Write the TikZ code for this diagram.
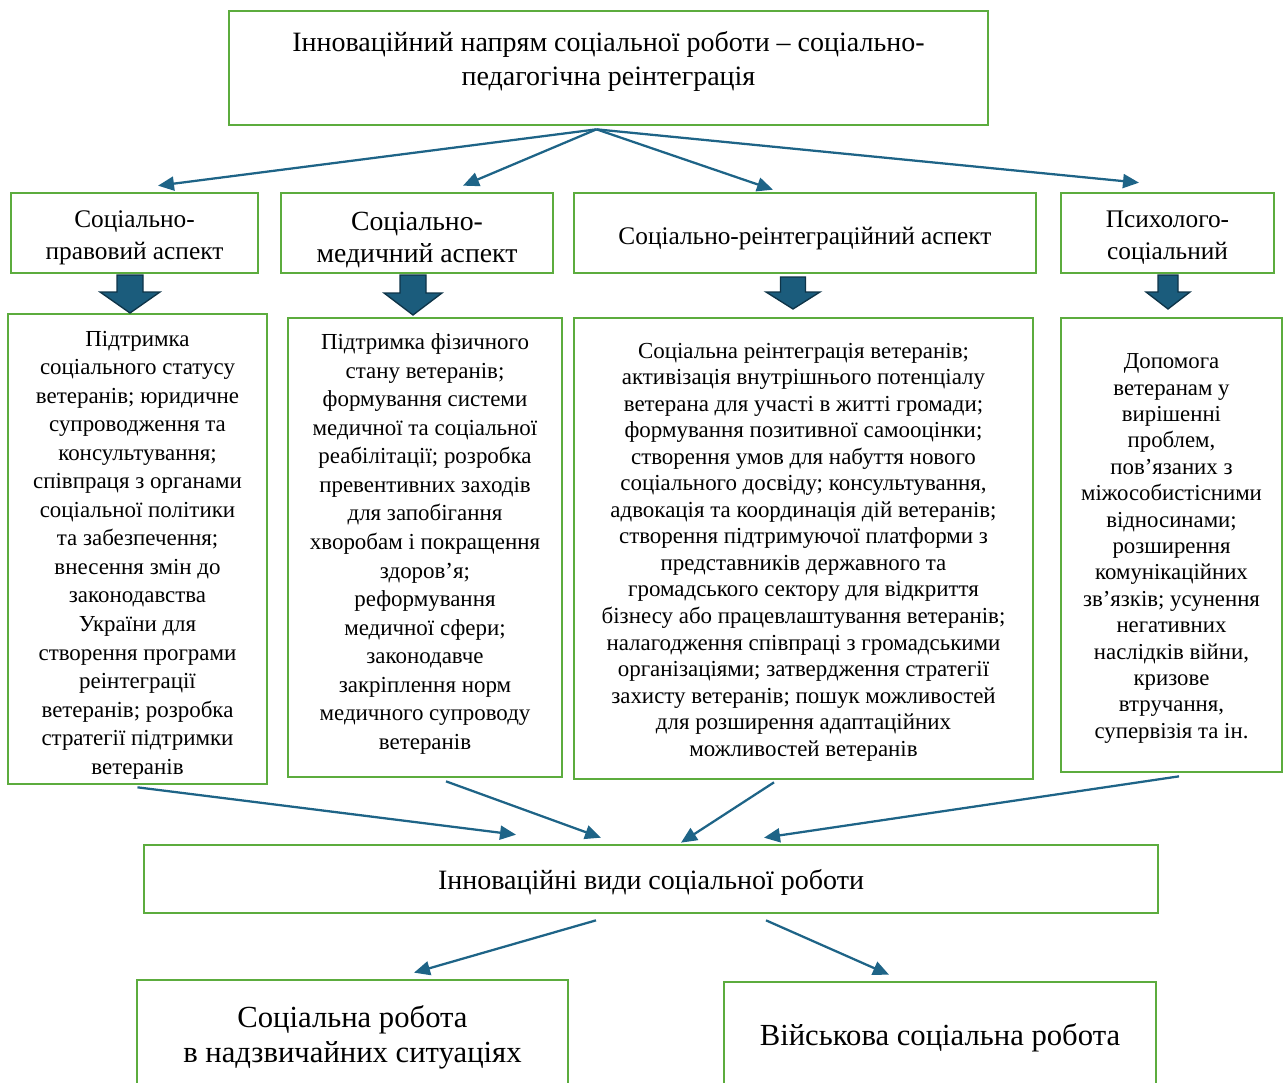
\documentclass[tikz,border=0pt]{standalone}
\usepackage{fontspec}
\setmainfont{Liberation Serif}
\usetikzlibrary{arrows.meta}

\definecolor{boxgreen}{RGB}{92,172,62}
\definecolor{linkblue}{RGB}{30,100,135}
\definecolor{blockfill}{RGB}{27,92,124}
\definecolor{blockedge}{RGB}{14,52,72}

\tikzset{
  box/.style={draw=boxgreen, line width=2pt, fill=white, inner sep=0pt},
  txt/.style={align=center, inner sep=0pt},
  link/.style={draw=linkblue, line width=1.7pt, -{Triangle[length=12pt,width=10.5pt]}},
  bigarrow/.style={draw=blockedge, fill=blockfill, line width=1pt},
}

\begin{document}
\begin{tikzpicture}[x=0.75pt, y=-0.75pt]
\path[use as bounding box, clip] (0,0) rectangle (1284,1082);

% top
\node[box, minimum width=569.25pt, minimum height=85.5pt] (top) at (608.5,68) {};
\node[txt, font=\fontsize{21}{25.5}\selectfont] (toptext) at ([shift={(0,-7)}]top.center)
  {Інноваційний напрям соціальної роботи – соціально-\\педагогічна реінтеграція};

% aspects
\node[box, minimum width=185.25pt, minimum height=60pt] (a1) at (134.5,233) {};
\node[box, minimum width=204pt, minimum height=60pt] (a2) at (417,233) {};
\node[box, minimum width=346.5pt, minimum height=60pt] (a3) at (805,233) {};
\node[box, minimum width=159.75pt, minimum height=60pt] (a4) at (1167.5,233) {};
\node[txt, font=\fontsize{19}{24}\selectfont] at ([shift={(0,5)}]a1.center) {Соціально-\\правовий аспект};
\node[txt, font=\fontsize{20.8}{24}\selectfont] at ([shift={(0,7)}]a2.center) {Соціально-\\медичний аспект};
\node[txt, font=\fontsize{19}{24}\selectfont] at ([shift={(0,6)}]a3.center) {Соціально-реінтеграційний аспект};
\node[txt, font=\fontsize{19}{24}\selectfont] at ([shift={(0,5)}]a4.center) {Психолого-\\соціальний};

% details
\node[box, minimum width=194.25pt, minimum height=352.5pt] (d1) at (137.5,549) {};
\node[box, minimum width=205.5pt, minimum height=344.25pt] (d2) at (425,547.5) {};
\node[box, minimum width=344.25pt, minimum height=345.75pt] (d3) at (803.5,548.5) {};
\node[box, minimum width=165.75pt, minimum height=340.5pt] (d4) at (1171.5,545) {};
\node[txt, font=\fontsize{17.2}{21.4}\selectfont] at ([shift={(0,6)}]d1.center)
  {Підтримка\\соціального статусу\\ветеранів; юридичне\\супроводження та\\консультування;\\
   співпраця з органами\\соціальної політики\\та забезпечення;\\внесення змін до\\
   законодавства\\України для\\створення програми\\реінтеграції\\ветеранів; розробка\\
   стратегії підтримки\\ветеранів};
\node[txt, font=\fontsize{17.2}{21.4}\selectfont] at ([shift={(0,-3.5)}]d2.center)
  {Підтримка фізичного\\стану ветеранів;\\формування системи\\медичної та соціальної\\
   реабілітації; розробка\\превентивних заходів\\для запобігання\\хворобам і покращення\\
   здоров’я;\\реформування\\медичної сфери;\\законодавче\\закріплення норм\\
   медичного супроводу\\ветеранів};
\node[txt, font=\fontsize{17.2}{19.9}\selectfont] at ([shift={(0,3.5)}]d3.center)
  {Соціальна реінтеграція ветеранів;\\активізація внутрішнього потенціалу\\
   ветерана для участі в житті громади;\\формування позитивної самооцінки;\\
   створення умов для набуття нового\\соціального досвіду; консультування,\\
   адвокація та координація дій ветеранів;\\створення підтримуючої платформи з\\
   представників державного та\\громадського сектору для відкриття\\
   бізнесу або працевлаштування ветеранів;\\налагодження співпраці з громадськими\\
   організаціями; затвердження стратегії\\захисту ветеранів; пошук можливостей\\
   для розширення адаптаційних\\можливостей ветеранів};
\node[txt, font=\fontsize{17.1}{19.8}\selectfont] at ([shift={(0,3.5)}]d4.center)
  {Допомога\\ветеранам у\\вирішенні\\проблем,\\пов’язаних з\\міжособистісними\\
   відносинами;\\розширення\\комунікаційних\\зв’язків; усунення\\негативних\\
   наслідків війни,\\кризове\\втручання,\\супервізія та ін.};

% kinds
\node[box, minimum width=760.5pt, minimum height=51pt] (mid) at (651,879) {};
\node[box, minimum width=323.25pt, minimum height=82.5pt] (b1) at (352.5,1035) {};
\node[box, minimum width=324pt, minimum height=81pt] (b2) at (940,1036) {};
\node[txt, font=\fontsize{21}{24}\selectfont] at ([shift={(0,3)}]mid.center) {Інноваційні види соціальної роботи};
\node[txt, font=\fontsize{23}{26.5}\selectfont] at ([shift={(0,2)}]b1.center) {Соціальна робота\\в надзвичайних ситуаціях};
\node[txt, font=\fontsize{23}{26.5}\selectfont] at ([shift={(0,2)}]b2.center) {Військова соціальна робота};

% block arrows
\foreach \x/\y/\s/\h/\k/\l in {130/275/13/30/17/38, 413/275/13/29/18/40,
                               793/277/12.5/27/15/32, 1168/275/10/22/17/34}
  \draw[bigarrow] (\x-\s,\y) -- (\x+\s,\y) -- (\x+\s,\y+\k) -- (\x+\h,\y+\k)
    -- (\x,\y+\l) -- (\x-\h,\y+\k) -- (\x-\s,\y+\k) -- cycle;

% links
\draw[link] ([shift={(-12,3)}]top.south) -- ([shift={(23.5,-6)}]a1.north);
\draw[link] ([shift={(-12,3)}]top.south) -- ([shift={(46,-6)}]a2.north);
\draw[link] ([shift={(-12,3)}]top.south) -- ([shift={(-32,-2)}]a3.north);
\draw[link] ([shift={(-12,3)}]top.south) -- ([shift={(-28.5,-9)}]a4.north);

\draw[link] ([shift={(0,2)}]d1.south) -- ([shift={(-135,-9)}]mid.north);
\draw[link] ([shift={(21,3)}]d2.south) -- ([shift={(-50,-6)}]mid.north);
\draw[link] ([shift={(-29.5,2)}]d3.south) -- ([shift={(30,-1)}]mid.north);
\draw[link] ([shift={(7.5,3)}]d4.south) -- ([shift={(113,-6)}]mid.north);

\draw[link] ([shift={(-55,6)}]mid.south) -- ([shift={(61.5,-6)}]b1.north);
\draw[link] ([shift={(115,6)}]mid.south) -- ([shift={(-51,-6)}]b2.north);
\end{tikzpicture}
\end{document}
